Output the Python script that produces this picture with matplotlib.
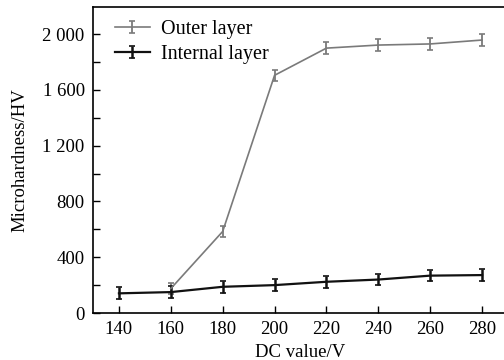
import matplotlib
matplotlib.use("Agg")
import matplotlib.pyplot as plt
from matplotlib.ticker import MultipleLocator
from matplotlib.container import ErrorbarContainer
from matplotlib.legend_handler import HandlerErrorbar

plt.rcParams['font.family'] = ['Liberation Serif', 'DejaVu Serif']

voltage = [140, 160, 180, 200, 220, 240, 260, 280]
outer_v = [160, 180, 200, 220, 240, 260, 280]
outer = [175, 585, 1705, 1900, 1922, 1930, 1958]
outer_err = [40, 40, 40, 45, 45, 45, 45]
internal = [141, 150, 188, 200, 224, 240, 268, 272]
internal_err = [42, 45, 45, 45, 42, 42, 42, 42]

yticks = [0, 400, 800, 1200, 1600, 2000]
ytick_labels = ["0", "400", "800", "1 200", "1 600", "2 000"]
xticks = [140, 160, 180, 200, 220, 240, 260, 280]

fig = plt.figure(figsize=(5.04, 3.6), dpi=100)
ax = fig.add_axes([93/504, 47/360, 415/504, 306/360])

gray = '#7a7a7a'
ax.errorbar(outer_v, outer, yerr=outer_err, color=gray, lw=1.2,
            capsize=2.2, elinewidth=1.3, capthick=1.2, label='Outer layer')
ax.errorbar(voltage, internal, yerr=internal_err, color='#111111', lw=1.6,
            capsize=2.2, elinewidth=1.8, capthick=1.2, label='Internal layer')

ax.set_xlim(130, 290)
ax.set_ylim(0, 2195)
ax.set_yticks(yticks)
ax.set_yticklabels(ytick_labels)
ax.yaxis.set_minor_locator(MultipleLocator(200))
ax.set_xticks(xticks)
ax.tick_params(direction='in', length=5, width=1, labelsize=13.5, pad=6)
ax.tick_params(which='minor', direction='in', length=5, width=1)
ax.spines['right'].set_visible(False)
for s in ['left', 'bottom', 'top']:
    ax.spines[s].set_linewidth(1.2)

ax.set_xlabel('DC value/V', fontsize=13.5, labelpad=4)
ax.set_ylabel('Microhardness/HV', fontsize=13.5, labelpad=10)

ax.legend(loc='upper left', frameon=False, fontsize=14.5, handlelength=1.75,
          borderaxespad=0.0, labelspacing=0.3, handletextpad=0.55,
          bbox_to_anchor=(0.033, 0.985),
          handler_map={ErrorbarContainer: HandlerErrorbar(yerr_size=0.3)})

fig.savefig('out.png', dpi=100)
